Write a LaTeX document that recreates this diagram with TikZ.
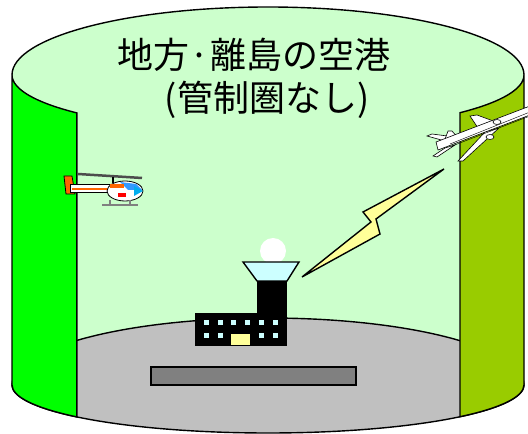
\documentclass[tikz,border=0pt]{standalone}
\usepackage{fontspec}
\newfontfamily\jpfont{Noto Sans CJK JP}
\usepackage{xcolor}
\usepackage{tikz}

\definecolor{airgreen}{HTML}{CCFFCC}
\definecolor{wallleft}{HTML}{00FF00}
\definecolor{wallright}{HTML}{99CC00}
\definecolor{floorgray}{HTML}{C0C0C0}
\definecolor{runwaygray}{HTML}{808080}
\definecolor{cabcyan}{HTML}{CCFFFF}
\definecolor{boltyellow}{HTML}{FFFF99}
\definecolor{heliorange}{HTML}{FF6600}
\definecolor{heliblue}{HTML}{3399FF}

\begin{document}
\begin{tikzpicture}[x=1pt,y=1pt,line width=1.4pt,
    rim/.style={draw=black,line width=1.4pt},
    plane/.style={fill=white,draw=black,line width=0.6pt},
    title/.style={font=\jpfont\fontsize{36}{43}\selectfont,inner sep=0pt}]
    \useasboundingbox (0,0) rectangle (528,434);

    % air inside the cylinder
    \fill[airgreen] (12,359) arc[start angle=180,end angle=0,x radius=256pt,y radius=68pt]
        -- (524,49) arc[start angle=0,end angle=-180,x radius=256pt,y radius=48pt] -- cycle;
    \draw[rim] (12,359) arc[start angle=180,end angle=0,x radius=256pt,y radius=68pt];

    % ground
    \filldraw[rim,fill=floorgray] (12,49) arc[start angle=180,end angle=0,x radius=256pt,y radius=67pt]
        arc[start angle=0,end angle=-180,x radius=256pt,y radius=48pt] -- cycle;
    \filldraw[rim,fill=runwaygray] (151,49) rectangle (356,67);

    % front wall, left and right pieces
    \filldraw[rim,fill=wallleft] (12,359) arc[start angle=180,end angle=221.7,x radius=256pt,y radius=57pt]
        -- ++(0,-304) arc[start angle=221.7,end angle=180,x radius=256pt,y radius=48pt] -- cycle;
    \filldraw[rim,fill=wallright] (524,359) arc[start angle=360,end angle=318.6,x radius=256pt,y radius=57pt]
        -- ++(0,-304) arc[start angle=318.6,end angle=360,x radius=256pt,y radius=48pt] -- cycle;

    % terminal and tower
    \fill[white] (273,183) circle[radius=13pt];
    \fill[black] (195,88) rectangle (287,121);
    \fill[black] (257,120) rectangle (287,153);
    \filldraw[rim,fill=cabcyan] (243,172) -- (299,172) -- (287,153) -- (257,153) -- cycle;
    \fill[cabcyan] (203.5,108.5) rectangle +(5,5);
    \fill[cabcyan] (217.5,108.5) rectangle +(5,5);
    \fill[cabcyan] (230.5,108.5) rectangle +(5,5);
    \fill[cabcyan] (244.5,108.5) rectangle +(5,5);
    \fill[cabcyan] (258.5,108.5) rectangle +(5,5);
    \fill[cabcyan] (272.5,108.5) rectangle +(5,5);
    \fill[cabcyan] (203.5,95.5) rectangle +(5,5);
    \fill[cabcyan] (217.5,95.5) rectangle +(5,5);
    \fill[cabcyan] (258.5,95.5) rectangle +(5,5);
    \fill[cabcyan] (272.5,95.5) rectangle +(5,5);
    \fill[boltyellow] (231,89) rectangle (250,100);

    % radio link
    \filldraw[rim,fill=boltyellow,line join=miter] (302,157) -- (371,212) -- (363,222)
        -- (444,265) -- (376,215) -- (380,200) -- cycle;

    % helicopter
    \draw[gray!60!black,line width=2.5pt] (78,260) -- (142,256);
    \draw[black,line width=1.5pt] (113,257) -- (113,251);
    \filldraw[black,fill=heliorange,line width=0.8pt] (64,258) -- (72,258) -- (75,240) -- (66,240) -- cycle;
    \filldraw[black,fill=white,line width=0.8pt] (70,250) rectangle (112,242);
    \draw[heliorange,line width=2pt] (72,245) -- (110,245);
    \filldraw[black,fill=white,line width=0.8pt] (125,243) ellipse[x radius=18pt,y radius=10pt];
    \fill[heliblue] (120,252) -- (136,250) -- (142,244) -- (128,244) -- cycle;
    \fill[heliorange] (110,250) rectangle (124,246);
    \fill[red] (118,237) rectangle (126,241);
    \fill[cyan] (134,248) -- (143,243) -- (134,238) -- cycle;
    \draw[gray,line width=2pt] (102,229) -- (138,229);
    \draw[gray,line width=1.2pt] (110,229) -- (110,234) (130,229) -- (130,234);

    % jet climbing out
    \begin{scope}
        \clip (0,0) rectangle (528,434);
        \filldraw[plane] (445,293) -- (427,298) -- (432,300) -- (455,297) -- cycle;
        \filldraw[plane] (445,286) -- (433,278) -- (437,277) -- (455,289) -- cycle;
        \filldraw[plane] (444,292) -- (448,303) -- (452,303) -- (458,296) -- cycle;
        \filldraw[plane] (478,306) -- (470,318) -- (477,319) -- (496,312) -- cycle;
        \filldraw[plane] (485,302) -- (458,273) -- (463,273) -- (499,306) -- cycle;
        \filldraw[plane] (436,292) -- (530,328) -- (530,319) -- (438,284) -- cycle;
        \draw[line width=0.4pt] (450,290) -- (530,322);
        \draw[line width=0.4pt] (452,288) -- (530,318);
        \filldraw[plane] (497,312) ellipse[x radius=4pt,y radius=2.5pt];
        \filldraw[plane] (490,297) ellipse[x radius=4pt,y radius=2.5pt];
    \end{scope}

    \node[title] (name) at (254,379) {地方·離島の空港};
    \node[title] (note) at (267,334) {(管制圏なし)};
\end{tikzpicture}
\end{document}
